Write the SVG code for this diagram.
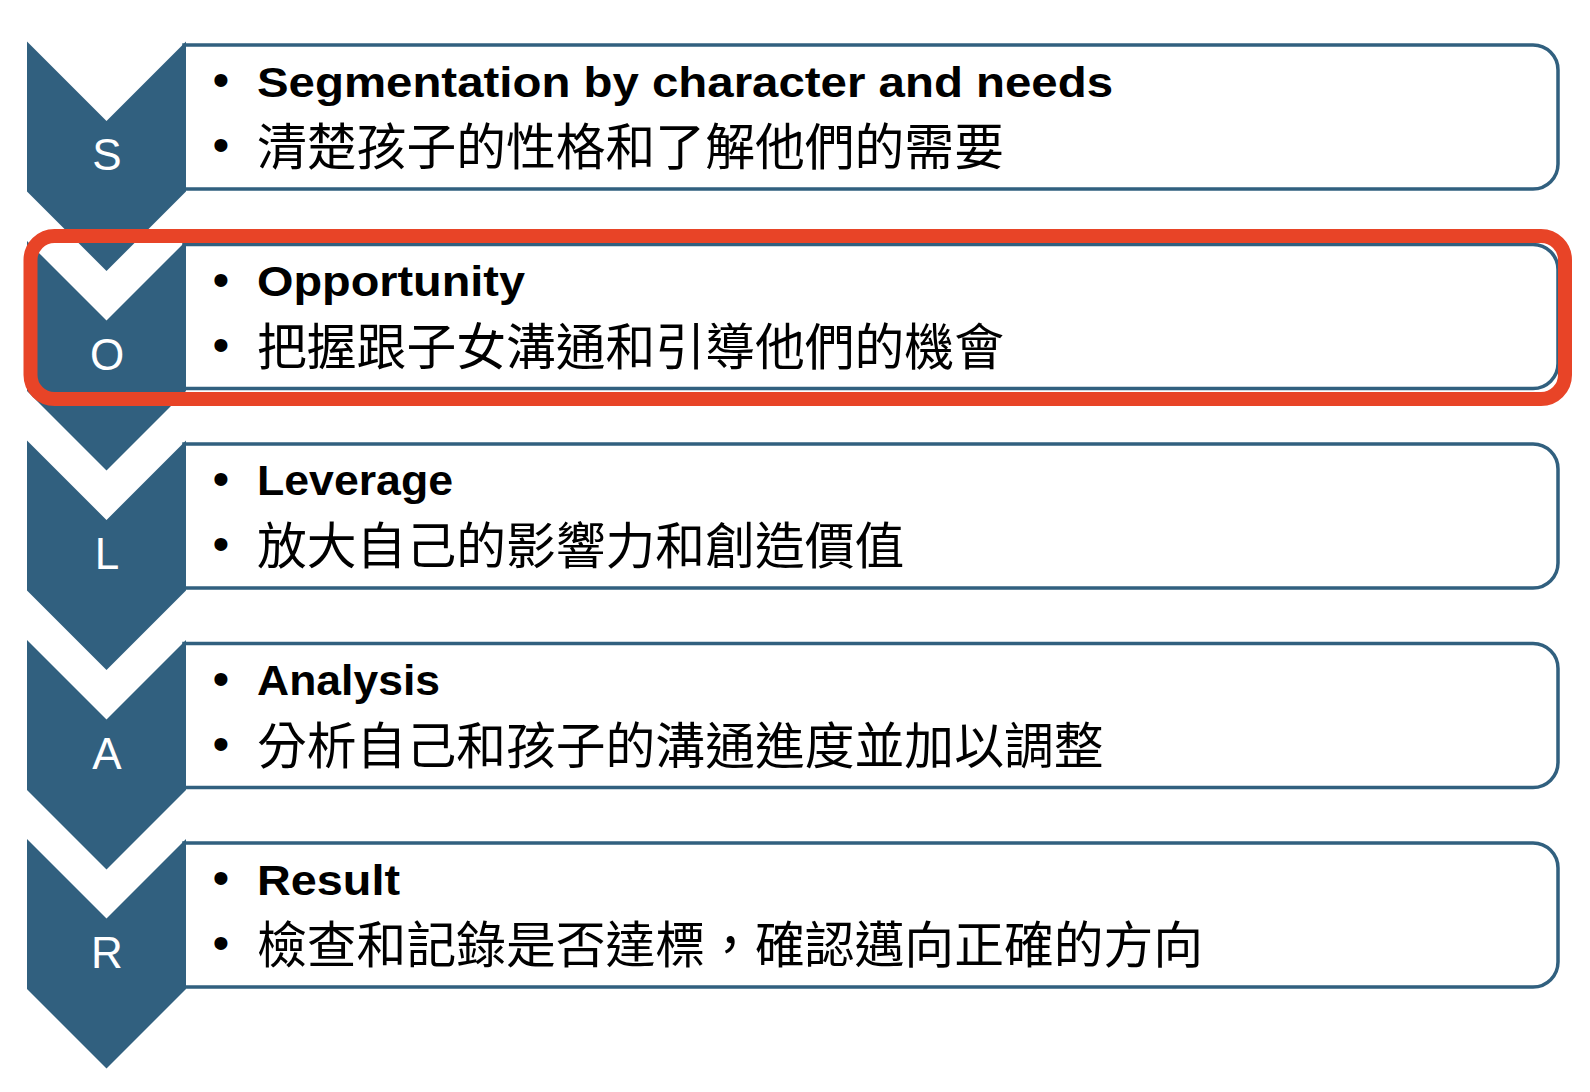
<svg xmlns="http://www.w3.org/2000/svg" width="1590" height="1092" viewBox="0 0 1590 1092">
<defs>
<style>
.chev{fill:#31607F;}
.box{fill:#FFFFFF;stroke:#31607F;stroke-width:3.5;}
.letter{font-family:"Liberation Sans",Arial,sans-serif;font-size:44px;fill:#FFFFFF;text-anchor:middle;}
.bul{font-family:"Liberation Sans",Arial,sans-serif;font-size:48px;fill:#000000;text-anchor:middle;}
.en{font-family:"Liberation Sans",Arial,sans-serif;font-size:43px;font-weight:bold;fill:#000000;}
.zh{font-family:"Noto Sans CJK TC","Noto Sans CJK SC",sans-serif;font-size:49.8px;fill:#000000;}
.hl{fill:none;stroke:#E84427;stroke-width:14;}
</style>
<path id="chevShape" d="M0,0 L79.5,79.5 L159,0 L159,150 L79.5,229.5 L0,150 Z"/>
<path id="boxShape" d="M184,0 H1533 A25,25 0 0 1 1558,25 V119 A25,25 0 0 1 1533,144 H184 Z"/>
</defs>
<rect x="0" y="0" width="1590" height="1092" fill="#FFFFFF"/>

<g id="node-S">
<use href="#boxShape" class="box" transform="translate(0,45)"/>
<use href="#chevShape" class="chev" transform="translate(27,41.5)"/>
<text class="letter" x="107" y="170">S</text>
<text class="bul" x="221" y="96">•</text>
<text class="en" x="257" y="97" textLength="856" lengthAdjust="spacingAndGlyphs">Segmentation by character and needs</text>
<text class="bul" x="221" y="161">•</text>
<text class="zh" x="257" y="165">清楚孩子的性格和了解他們的需要</text>
</g>

<g id="node-O">
<use href="#boxShape" class="box" transform="translate(0,244.5)"/>
<use href="#chevShape" class="chev" transform="translate(27,241)"/>
<text class="letter" x="107" y="369.5">O</text>
<text class="bul" x="221" y="295.5">•</text>
<text class="en" x="257" y="295.5" textLength="268" lengthAdjust="spacingAndGlyphs">Opportunity</text>
<text class="bul" x="221" y="360.5">•</text>
<text class="zh" x="257" y="364.5">把握跟子女溝通和引導他們的機會</text>
</g>

<g id="node-L">
<use href="#boxShape" class="box" transform="translate(0,444)"/>
<use href="#chevShape" class="chev" transform="translate(27,440.5)"/>
<text class="letter" x="107" y="569">L</text>
<text class="bul" x="221" y="495">•</text>
<text class="en" x="257" y="495" textLength="196" lengthAdjust="spacingAndGlyphs">Leverage</text>
<text class="bul" x="221" y="560">•</text>
<text class="zh" x="257" y="564">放大自己的影響力和創造價值</text>
</g>

<g id="node-A">
<use href="#boxShape" class="box" transform="translate(0,643.5)"/>
<use href="#chevShape" class="chev" transform="translate(27,640)"/>
<text class="letter" x="107" y="768.5">A</text>
<text class="bul" x="221" y="694.5">•</text>
<text class="en" x="257" y="695" textLength="183" lengthAdjust="spacingAndGlyphs">Analysis</text>
<text class="bul" x="221" y="759.5">•</text>
<text class="zh" x="257" y="763.5">分析自己和孩子的溝通進度並加以調整</text>
</g>

<g id="node-R">
<use href="#boxShape" class="box" transform="translate(0,843)"/>
<use href="#chevShape" class="chev" transform="translate(27,839)"/>
<text class="letter" x="107" y="968">R</text>
<text class="bul" x="221" y="894">•</text>
<text class="en" x="257" y="895" textLength="143" lengthAdjust="spacingAndGlyphs">Result</text>
<text class="bul" x="221" y="959">•</text>
<text class="zh" x="257" y="963">檢查和記錄是否達標，確認邁向正確的方向</text>
</g>

<g id="highlight">
<rect class="hl" x="30.5" y="236" width="1534.5" height="163" rx="24" ry="24"/>
</g>
</svg>
